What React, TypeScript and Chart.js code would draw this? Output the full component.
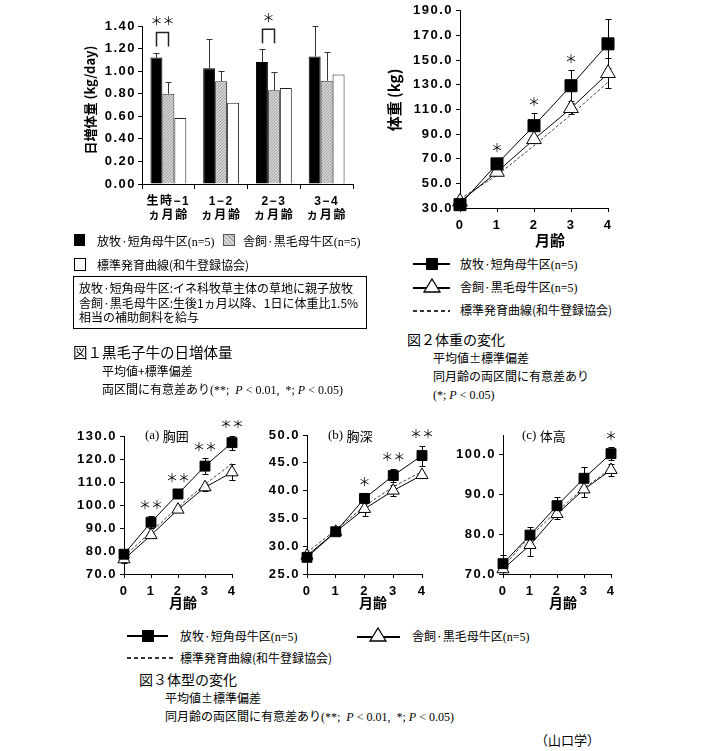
import React, { useEffect, useRef } from "react";
import { Chart, registerables } from "chart.js";
Chart.register(...registerables);

// ---------------- data ----------------
// Fig.1 daily gain (kg/day)
const dgCategories = [["生時−1", "ヵ月齢"], ["1−2", "ヵ月齢"], ["2−3", "ヵ月齢"], ["3−4", "ヵ月齢"]];
const dgGrazing = [1.12, 1.025, 1.08, 1.13];
const dgGrazingSD = [0.045, 0.26, 0.115, 0.27];
const dgHoused = [0.80, 0.91, 0.83, 0.915];
const dgHousedSD = [0.105, 0.095, 0.165, 0.255];
const dgStandard = [0.585, 0.72, 0.85, 0.97];
const dgSig = ["**", "", "*", ""];

// Fig.2 body weight (kg)
const months = [0, 1, 2, 3, 4];
const bwGrazing = [32.7, 65.8, 96.8, 129.2, 163.2];
const bwGrazingSD = [1.5, 3.2, 10.2, 12.4, 20.0];
const bwHoused = [35.0, 59.2, 85.7, 110.9, 139.3];
const bwHousedSD = [1.5, 2.5, 3.0, 4.5, 12.0];
const bwStandard = [37.4, 56.5, 80.6, 105.6, 132.0];
const bwSig = ["", "*", "*", "*", ""];

// Fig.3 (a) chest girth
const cgGrazing = [78.6, 92.5, 104.8, 116.9, 127.1];
const cgGrazingSD = [1.5, 2.5, 1.8, 3.5, 3.0];
const cgHoused = [76.4, 86.9, 98.0, 107.7, 114.2];
const cgHousedSD = [1.5, 1.0, 1.0, 1.5, 3.5];
const cgStandard = [77.5, 88.4, 99.0, 109.0, 118.0];
const cgSig = ["", "**", "**", "**", "**"];

// Fig.3 (b) chest depth
const cdGrazing = [28.0, 32.6, 38.6, 42.7, 46.3];
const cdGrazingSD = [0.5, 0.4, 0.8, 1.2, 1.8];
const cdHoused = [28.3, 32.6, 36.7, 40.0, 42.8];
const cdHousedSD = [0.5, 0.5, 1.2, 1.0, 0.4];
const cdStandard = [28.9, 32.9, 37.2, 40.7, 43.4];
const cdSig = ["", "", "*", "**", "**"];

// Fig.3 (c) withers height
const whGrazing = [72.6, 79.8, 87.2, 94.1, 100.3];
const whGrazingSD = [2.2, 2.0, 2.3, 2.8, 1.6];
const whHoused = [71.2, 77.3, 85.1, 91.3, 96.2];
const whHousedSD = [0.8, 2.8, 1.3, 2.0, 1.6];
const whStandard = [71.8, 79.5, 85.8, 91.6, 96.5];
const whSig = ["", "", "", "", "*"];

// ---------------- helpers ----------------
const SANS = '"Noto Sans CJK JP", "Noto Sans", sans-serif';
const SERIF = '"Liberation Serif", "DejaVu Serif", serif';
const TICK_FAMILY = '"Liberation Sans", "Noto Sans CJK JP", sans-serif';

type Seg = { text: string; font: string };
type TextItem = { x: number; y: number; segs: Seg[]; align?: "left" | "center"; rot?: boolean };

function spacingPlugin(px: string) {
  return {
    id: "tickSpacing",
    beforeDraw(chart: any) { (chart.ctx as any).letterSpacing = px; },
    afterDraw(chart: any) { (chart.ctx as any).letterSpacing = "0px"; },
  };
}

function textPlugin(id: string, ox: number, oy: number, items: TextItem[]) {
  return {
    id,
    afterDraw(chart: any) {
      const ctx = chart.ctx as CanvasRenderingContext2D;
      for (const it of items) {
        ctx.save();
        (ctx as any).letterSpacing = "0px";
        ctx.fillStyle = "#000";
        ctx.textBaseline = "middle";
        ctx.textAlign = "left";
        ctx.translate(it.x - ox, it.y - oy);
        if (it.rot) ctx.rotate(-Math.PI / 2);
        let total = 0;
        for (const s of it.segs) {
          ctx.font = s.font;
          total += ctx.measureText(s.text).width;
        }
        let cx = it.align === "left" ? 0 : -total / 2;
        for (const s of it.segs) {
          ctx.font = s.font;
          ctx.fillText(s.text, cx, 0);
          cx += ctx.measureText(s.text).width;
        }
        ctx.restore();
      }
    },
  };
}

function drawStar(ctx: CanvasRenderingContext2D, x: number, y: number, label: string) {
  ctx.save();
  (ctx as any).letterSpacing = "0px";
  ctx.fillStyle = "#000";
  ctx.font = '12px "Noto Sans CJK JP"';
  ctx.textAlign = "center";
  ctx.textBaseline = "middle";
  const txt = label.replace(/\*/g, "＊");
  ctx.fillText(txt, x, y);
  ctx.restore();
}

function makeHatch(ctx: CanvasRenderingContext2D): CanvasPattern | string {
  const c = document.createElement("canvas");
  c.width = 3;
  c.height = 3;
  const g = c.getContext("2d");
  if (!g) return "#c8c8c8";
  g.fillStyle = "#d2d2d2";
  g.fillRect(0, 0, 3, 3);
  g.fillStyle = "#a4a4a4";
  for (let i = 0; i < 3; i++) g.fillRect(i, 2 - i, 1, 1);
  return ctx.createPattern(c, "repeat") || "#c8c8c8";
}

function ChartCanvas({ left, top, width, height, make }: { left: number; top: number; width: number; height: number; make: (ctx: CanvasRenderingContext2D) => any }) {
  const ref = useRef<HTMLCanvasElement | null>(null);
  useEffect(() => {
    const cv = ref.current!;
    const chart = new Chart(cv, make(cv.getContext("2d")!));
    return () => chart.destroy();
  }, []);
  return <canvas ref={ref} width={width} height={height} style={{ position: "absolute", left, top, width, height }} />;
}

// ---------------- bar chart (Fig.1) ----------------
const B = { left: 60, top: 0, w: 310, h: 235, yw: 82, padTop: 26, padRight: 17, xh: 51 };

function barConfig(ctx: CanvasRenderingContext2D) {
  const hatch = makeHatch(ctx);
  const tickFont = { family: TICK_FAMILY, size: 13, weight: "bold" as const };
  const common = { categoryPercentage: 0.68, barPercentage: 1.0, borderWidth: 1 };
  const errPlugin = {
    id: "dgErr",
    afterDatasetsDraw(chart: any) {
      const c = chart.ctx as CanvasRenderingContext2D;
      const y = chart.scales.y;
      const sets: [number, number[], number[]][] = [
        [0, dgGrazing, dgGrazingSD],
        [1, dgHoused, dgHousedSD],
      ];
      c.save();
      c.strokeStyle = "#333";
      c.lineWidth = 1;
      for (const [di, vals, sds] of sets) {
        const meta = chart.getDatasetMeta(di);
        meta.data.forEach((bar: any, i: number) => {
          const x = Math.round(bar.x) + 0.5;
          const y0 = y.getPixelForValue(vals[i]);
          const y1 = Math.round(y.getPixelForValue(vals[i] + sds[i])) + 0.5;
          c.beginPath();
          c.moveTo(x, y0);
          c.lineTo(x, y1);
          c.moveTo(x - 3, y1);
          c.lineTo(x + 3, y1);
          c.stroke();
        });
      }
      // significance brackets
      const m0 = chart.getDatasetMeta(0);
      const m1 = chart.getDatasetMeta(1);
      c.lineWidth = 1.5;
      c.strokeStyle = "#222";
      dgSig.forEach((s, i) => {
        if (!s) return;
        const xa = Math.round(m0.data[i].x) + 0.5;
        const xb = Math.round(m1.data[i].x) + 0.5;
        const legBottom = y.getPixelForValue(dgGrazing[i] + dgGrazingSD[i]) - 6;
        const topY = legBottom - 14;
        c.beginPath();
        c.moveTo(xa, legBottom);
        c.lineTo(xa, topY);
        c.lineTo(xb, topY);
        c.lineTo(xb, legBottom);
        c.stroke();
        drawStar(c, (xa + xb) / 2, topY - 11, s);
      });
      c.restore();
    },
  };
  return {
    type: "bar",
    data: {
      labels: dgCategories,
      datasets: [
        { label: "放牧・短角母牛区", data: dgGrazing, backgroundColor: "#000", borderColor: "#000", ...common },
        { label: "舎飼・黒毛母牛区", data: dgHoused, backgroundColor: hatch, borderColor: "#333", ...common },
        { label: "標準発育曲線", data: dgStandard, backgroundColor: "#fff", borderColor: "#222", ...common },
      ],
    },
    options: {
      responsive: false,
      animation: false,
      events: [],
      layout: { padding: { top: B.padTop, right: B.padRight, left: 0, bottom: 0 } },
      plugins: { legend: { display: false }, tooltip: { enabled: false } },
      scales: {
        x: {
          grid: { display: true, drawOnChartArea: false, offset: true, tickLength: 5, color: "#000" },
          border: { color: "#000", width: 1 },
          ticks: { color: "#000", font: { ...tickFont, size: 12 }, padding: 5, maxRotation: 0, autoSkip: false },
          afterFit: (s: any) => { s.height = B.xh; },
        },
        y: {
          min: 0,
          max: 1.4,
          ticks: { stepSize: 0.2, color: "#000", font: tickFont, padding: 2, callback: (v: any) => Number(v).toFixed(2) },
          grid: { display: true, drawOnChartArea: false, tickLength: 4, color: "#000" },
          border: { color: "#000", width: 1 },
          afterFit: (s: any) => { s.width = B.yw; },
        },
      },
    },
    plugins: [
      spacingPlugin("1.5px"),
      errPlugin,
      textPlugin("dgTitle", B.left, B.top, [
        { x: 90, y: 100, rot: true, segs: [{ text: "日増体量 (kg/day)", font: 'bold 13px "Noto Sans CJK JP"' }] },
      ]),
    ],
  };
}

// ---------------- line charts ----------------
type LP = {
  left: number; top: number; w: number; h: number; yw: number; padTop: number; padRight: number; xh: number;
  g: number[]; gsd: number[]; hs: number[]; hsd: number[]; st: number[]; sig: string[];
  min: number; max: number; step: number; r: number; starOff: number; texts: TextItem[]; id: string;
};

function lineConfig(p: LP) {
  const tickFont = { family: TICK_FAMILY, size: 13, weight: "bold" as const };
  const xy = (arr: number[]) => months.map((m, i) => ({ x: m, y: arr[i] }));
  const errPlugin = {
    id: p.id + "Err",
    beforeDatasetsDraw(chart: any) {
      const c = chart.ctx as CanvasRenderingContext2D;
      const xs = chart.scales.x;
      const ys = chart.scales.y;
      c.save();
      c.strokeStyle = "#000";
      c.lineWidth = 1;
      const sets: [number[], number[]][] = [[p.g, p.gsd], [p.hs, p.hsd]];
      for (const [vals, sds] of sets) {
        months.forEach((m, i) => {
          const x = Math.round(xs.getPixelForValue(m)) + 0.5;
          const yt = Math.round(ys.getPixelForValue(vals[i] + sds[i])) + 0.5;
          const yb = Math.round(ys.getPixelForValue(vals[i] - sds[i])) + 0.5;
          c.beginPath();
          c.moveTo(x, yt);
          c.lineTo(x, yb);
          c.moveTo(x - 3, yt);
          c.lineTo(x + 3, yt);
          c.moveTo(x - 3, yb);
          c.lineTo(x + 3, yb);
          c.stroke();
        });
      }
      c.restore();
    },
    afterDraw(chart: any) {
      const c = chart.ctx as CanvasRenderingContext2D;
      const xs = chart.scales.x;
      const ys = chart.scales.y;
      p.sig.forEach((s, i) => {
        if (!s) return;
        const x = xs.getPixelForValue(months[i]);
        const y = ys.getPixelForValue(p.g[i] + p.gsd[i]) - p.starOff;
        drawStar(c, x, y, s);
      });
    },
  };
  return {
    type: "line",
    data: {
      datasets: [
        { label: "放牧・短角母牛区", data: xy(p.g), borderColor: "#000", borderWidth: 1, pointStyle: "rect", pointRadius: p.r, pointBackgroundColor: "#000", pointBorderColor: "#000", pointBorderWidth: 1, clip: false },
        { label: "舎飼・黒毛母牛区", data: xy(p.hs), borderColor: "#000", borderWidth: 1, pointStyle: "triangle", pointRadius: p.r, pointBackgroundColor: "#fff", pointBorderColor: "#000", pointBorderWidth: 1, clip: false },
        { label: "標準発育曲線", data: xy(p.st), borderColor: "#444", borderWidth: 1, borderDash: [3, 2], pointRadius: 0, clip: false },
      ],
    },
    options: {
      responsive: false,
      animation: false,
      events: [],
      layout: { padding: { top: p.padTop, right: p.padRight, left: 0, bottom: 0 } },
      plugins: { legend: { display: false }, tooltip: { enabled: false } },
      scales: {
        x: {
          type: "linear",
          min: 0,
          max: 4,
          ticks: { stepSize: 1, color: "#000", font: tickFont, padding: 6 },
          grid: { display: true, drawOnChartArea: false, tickLength: 4, color: "#000" },
          border: { color: "#000", width: 1 },
          afterFit: (s: any) => { s.height = p.xh; },
        },
        y: {
          min: p.min,
          max: p.max,
          ticks: { stepSize: p.step, color: "#000", font: tickFont, padding: 3, callback: (v: any) => Number(v).toFixed(1) },
          afterBuildTicks: (s: any) => {
            s.ticks = s.ticks.filter((t: any) => {
              const k = (t.value - p.min) / p.step;
              return Math.abs(k - Math.round(k)) < 1e-6;
            });
          },
          grid: { display: true, drawOnChartArea: false, tickLength: 4, color: "#000" },
          border: { color: "#000", width: 1 },
          afterFit: (s: any) => { s.width = p.yw; },
        },
      },
    },
    plugins: [spacingPlugin("1.5px"), errPlugin, textPlugin(p.id + "Txt", p.left, p.top, p.texts)],
  };
}

const bold14 = 'bold 14px "Noto Sans CJK JP"';
const bold15 = 'bold 15px "Noto Sans CJK JP"';
const titleSerif = '13px "Liberation Serif"';
const titleSans = '13px "Noto Sans CJK JP"';

const bwParams: LP = {
  id: "bw", left: 380, top: 0, w: 240, h: 250, yw: 80, padTop: 7, padRight: 12, xh: 42,
  g: bwGrazing, gsd: bwGrazingSD, hs: bwHoused, hsd: bwHousedSD, st: bwStandard, sig: bwSig,
  min: 30, max: 190, step: 20, r: 8.5, starOff: 11,
  texts: [
    { x: 394, y: 100, rot: true, segs: [{ text: "体重 (kg)", font: bold15 }] },
    { x: 550, y: 240, segs: [{ text: "月齢", font: bold15 }] },
  ],
};
const cgParams: LP = {
  id: "cg", left: 60, top: 420, w: 190, h: 195, yw: 64, padTop: 16, padRight: 18, xh: 41,
  g: cgGrazing, gsd: cgGrazingSD, hs: cgHoused, hsd: cgHousedSD, st: cgStandard, sig: cgSig,
  min: 70, max: 130, step: 10, r: 7, starOff: 11,
  texts: [
    { x: 145, y: 436, align: "left", segs: [{ text: "(a) ", font: titleSerif }, { text: "胸囲", font: titleSans }] },
    { x: 183, y: 603, segs: [{ text: "月齢", font: bold14 }] },
  ],
};
const cdParams: LP = {
  id: "cd", left: 250, top: 420, w: 190, h: 195, yw: 57, padTop: 15, padRight: 18, xh: 41,
  g: cdGrazing, gsd: cdGrazingSD, hs: cdHoused, hsd: cdHousedSD, st: cdStandard, sig: cdSig,
  min: 25, max: 50, step: 5, r: 7, starOff: 11,
  texts: [
    { x: 328, y: 436, align: "left", segs: [{ text: "(b) ", font: titleSerif }, { text: "胸深", font: titleSans }] },
    { x: 373, y: 603, segs: [{ text: "月齢", font: bold14 }] },
  ],
};
const whParams: LP = {
  id: "wh", left: 440, top: 420, w: 190, h: 195, yw: 63, padTop: 15, padRight: 19, xh: 41,
  g: whGrazing, gsd: whGrazingSD, hs: whHoused, hsd: whHousedSD, st: whStandard, sig: whSig,
  min: 70, max: 105, step: 10, r: 7, starOff: 11,
  texts: [
    { x: 522, y: 436, align: "left", segs: [{ text: "(c) ", font: titleSerif }, { text: "体高", font: titleSans }] },
    { x: 563, y: 603, segs: [{ text: "月齢", font: bold14 }] },
  ],
};

// ---------------- HTML text / legend pieces ----------------
function T({ x, y, size = 12, children, font = SANS }: { x: number; y: number; size?: number; children: React.ReactNode; font?: string }) {
  return (
    <div style={{ position: "absolute", left: x, top: y - 10, height: 20, lineHeight: "20px", fontSize: size, fontFamily: font, whiteSpace: "nowrap", color: "#000" }}>
      {children}
    </div>
  );
}
const N = () => <span style={{ fontFamily: SERIF, fontSize: 12 }}>(n=5)</span>;
const SigNote = ({ both }: { both: boolean }) => (
  <span style={{ fontFamily: SERIF, fontSize: 12 }}>
    {both ? <>(**;&nbsp; <i>P</i> &lt; 0.01,&nbsp; *; <i>P</i> &lt; 0.05)</> : <>(*; <i>P</i> &lt; 0.05)</>}
  </span>
);

function Rect({ x, y, w, h, bg, border = "1px solid #000" }: { x: number; y: number; w: number; h: number; bg: string; border?: string }) {
  return <div style={{ position: "absolute", left: x, top: y, width: w, height: h, background: bg, border, boxSizing: "border-box" }} />;
}
function HLine({ x1, x2, y, dashed }: { x1: number; x2: number; y: number; dashed?: boolean }) {
  return (
    <div
      style={{
        position: "absolute", left: x1, top: y - 1, width: x2 - x1, height: 2,
        background: dashed ? "repeating-linear-gradient(90deg, #333 0 4px, transparent 4px 7px)" : "#000",
      }}
    />
  );
}
function Tri({ x, y }: { x: number; y: number }) {
  return (
    <svg style={{ position: "absolute", left: x - 9, top: y - 8 }} width={18} height={15}>
      <polygon points="9,1 17,14 1,14" fill="#fff" stroke="#000" strokeWidth={1.3} />
    </svg>
  );
}
function Sq({ x, y, s = 12 }: { x: number; y: number; s?: number }) {
  return <div style={{ position: "absolute", left: x - s / 2, top: y - s / 2, width: s, height: s, background: "#000" }} />;
}

export default function App() {
  const hatchCss = "repeating-linear-gradient(45deg, #a6a6a6 0 1px, #d6d6d6 1px 3px)";
  return (
    <div style={{ position: "absolute", left: 0, top: 0, width: 705, height: 751, background: "#fff", overflow: "hidden" }}>
      {/* Fig.1 */}
      <ChartCanvas left={B.left} top={B.top} width={B.w} height={B.h} make={barConfig} />
      <Rect x={74} y={234} w={11} h={12} bg="#000" />
      <T x={97} y={241}>放牧·短角母牛区<N /></T>
      <Rect x={223} y={234} w={12} h={12} bg={hatchCss} border="1px solid #555" />
      <T x={243} y={241}>舎飼·黒毛母牛区<N /></T>
      <Rect x={74} y={258} w={12} h={13} bg="#fff" />
      <T x={97} y={265}>標準発育曲線(和牛登録協会)</T>
      <Rect x={73} y={276} w={294} h={53} bg="#fff" />
      <T x={79} y={288}>放牧·短角母牛区:イネ科牧草主体の草地に親子放牧</T>
      <T x={79} y={303}>舎飼·黒毛母牛区:生後1ヵ月以降、1日に体重比1.5%</T>
      <T x={79} y={317}>相当の補助飼料を給与</T>
      <T x={73} y={352} size={14.5}>図１黒毛子牛の日増体量</T>
      <T x={102} y={371}>平均値+標準偏差</T>
      <T x={102} y={389}>両区間に有意差あり<SigNote both={true} /></T>

      {/* Fig.2 */}
      <ChartCanvas left={bwParams.left} top={bwParams.top} width={bwParams.w} height={bwParams.h} make={() => lineConfig(bwParams)} />
      <HLine x1={413} x2={450} y={264} />
      <Sq x={432} y={264} s={12} />
      <T x={460} y={264}>放牧·短角母牛区<N /></T>
      <HLine x1={413} x2={450} y={288} />
      <Tri x={432} y={286} />
      <T x={460} y={287}>舎飼·黒毛母牛区<N /></T>
      <HLine x1={413} x2={450} y={311} dashed />
      <T x={460} y={310}>標準発育曲線(和牛登録協会)</T>
      <T x={407} y={339} size={14}>図２体重の変化</T>
      <T x={433} y={358}>平均値±標準偏差</T>
      <T x={433} y={376}>同月齢の両区間に有意差あり</T>
      <T x={433} y={394}><SigNote both={false} /></T>

      {/* Fig.3 */}
      <ChartCanvas left={cgParams.left} top={cgParams.top} width={cgParams.w} height={cgParams.h} make={() => lineConfig(cgParams)} />
      <ChartCanvas left={cdParams.left} top={cdParams.top} width={cdParams.w} height={cdParams.h} make={() => lineConfig(cdParams)} />
      <ChartCanvas left={whParams.left} top={whParams.top} width={whParams.w} height={whParams.h} make={() => lineConfig(whParams)} />
      <HLine x1={127} x2={168} y={636} />
      <Sq x={148} y={636} s={12} />
      <T x={180} y={636}>放牧·短角母牛区<N /></T>
      <HLine x1={357} x2={400} y={637} />
      <Tri x={378} y={635} />
      <T x={412} y={636}>舎飼·黒毛母牛区<N /></T>
      <HLine x1={127} x2={175} y={658} dashed />
      <T x={180} y={658}>標準発育曲線(和牛登録協会)</T>
      <T x={139} y={679} size={14}>図３体型の変化</T>
      <T x={165} y={698}>平均値±標準偏差</T>
      <T x={165} y={716}>同月齢の両区間に有意差あり<SigNote both={true} /></T>
      <T x={535} y={740} size={13}>（山口学）</T>
    </div>
  );
}
